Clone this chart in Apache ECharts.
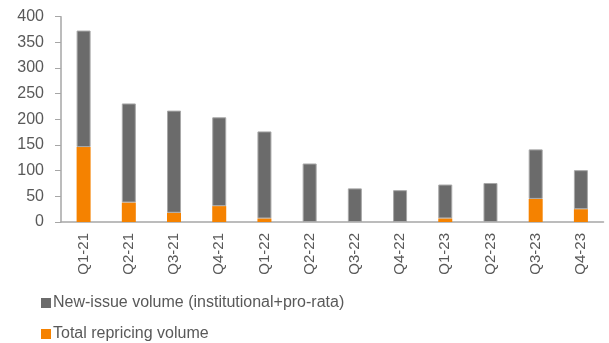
<!DOCTYPE html>
<html>
<head>
<meta charset="utf-8">
<script src="https://cdn.jsdelivr.net/npm/echarts@6/dist/echarts.min.js"></script>
<style>html,body{margin:0;padding:0;background:#fff;}#c{width:609px;height:343px;}</style>
</head>
<body>
<div id="c"></div>
<script>
const categories = ['Q1-21','Q2-21','Q3-21','Q4-21','Q1-22','Q2-22','Q3-22','Q4-22','Q1-23','Q2-23','Q3-23','Q4-23'];
const repricingVolume = [146, 38, 18, 31, 7, 0, 0, 0, 7, 0, 45, 25];
const newIssueVolume = [227, 193, 199, 173, 169.5, 114, 65.5, 62, 66, 76, 96.5, 76];
const yTicks = { min: 0, max: 400, interval: 50 };

const chart = echarts.init(document.getElementById('c'));
const textColor = '#595959';
const font = 'Liberation Sans, Arial, sans-serif';
const legendBase = {
  left: 36,
  itemWidth: 10,
  itemHeight: 10,
  icon: 'rect',
  itemStyle: { borderWidth: 0 },
  textStyle: { color: textColor, fontSize: 16, fontFamily: font, padding: [0, 0, 0, -3] }
};
chart.setOption({
  animation: false,
  grid: { left: 61, right: 5.5, top: 16.7, bottom: 121 },
  legend: [
    Object.assign({}, legendBase, { top: 290, data: ['New-issue volume (institutional+pro-rata)'] }),
    Object.assign({}, legendBase, { top: 321, data: ['Total repricing volume'] })
  ],
  xAxis: {
    type: 'category',
    data: categories,
    axisLine: { lineStyle: { color: '#a6a6a6', width: 1.5 } },
    axisTick: { show: false },
    axisLabel: { rotate: 90, margin: 11, color: textColor, fontSize: 15, fontFamily: font }
  },
  yAxis: {
    type: 'value',
    min: yTicks.min, max: yTicks.max, interval: yTicks.interval,
    splitLine: { show: false },
    axisLine: { show: true, lineStyle: { color: '#a6a6a6', width: 1.5 } },
    axisTick: { show: true, length: 6, lineStyle: { color: '#a6a6a6' } },
    axisLabel: { margin: 17, color: textColor, fontSize: 16, fontFamily: font }
  },
  series: [
    {
      name: 'Total repricing volume',
      type: 'bar',
      stack: 'total',
      barWidth: 14,
      data: repricingVolume,
      itemStyle: { color: '#f58200' }
    },
    {
      name: 'New-issue volume (institutional+pro-rata)',
      type: 'bar',
      stack: 'total',
      barWidth: 14,
      data: newIssueVolume,
      itemStyle: { color: '#6b6b6b', borderColor: '#a8a8a8', borderWidth: 1 }
    }
  ]
});
</script>
</body>
</html>
